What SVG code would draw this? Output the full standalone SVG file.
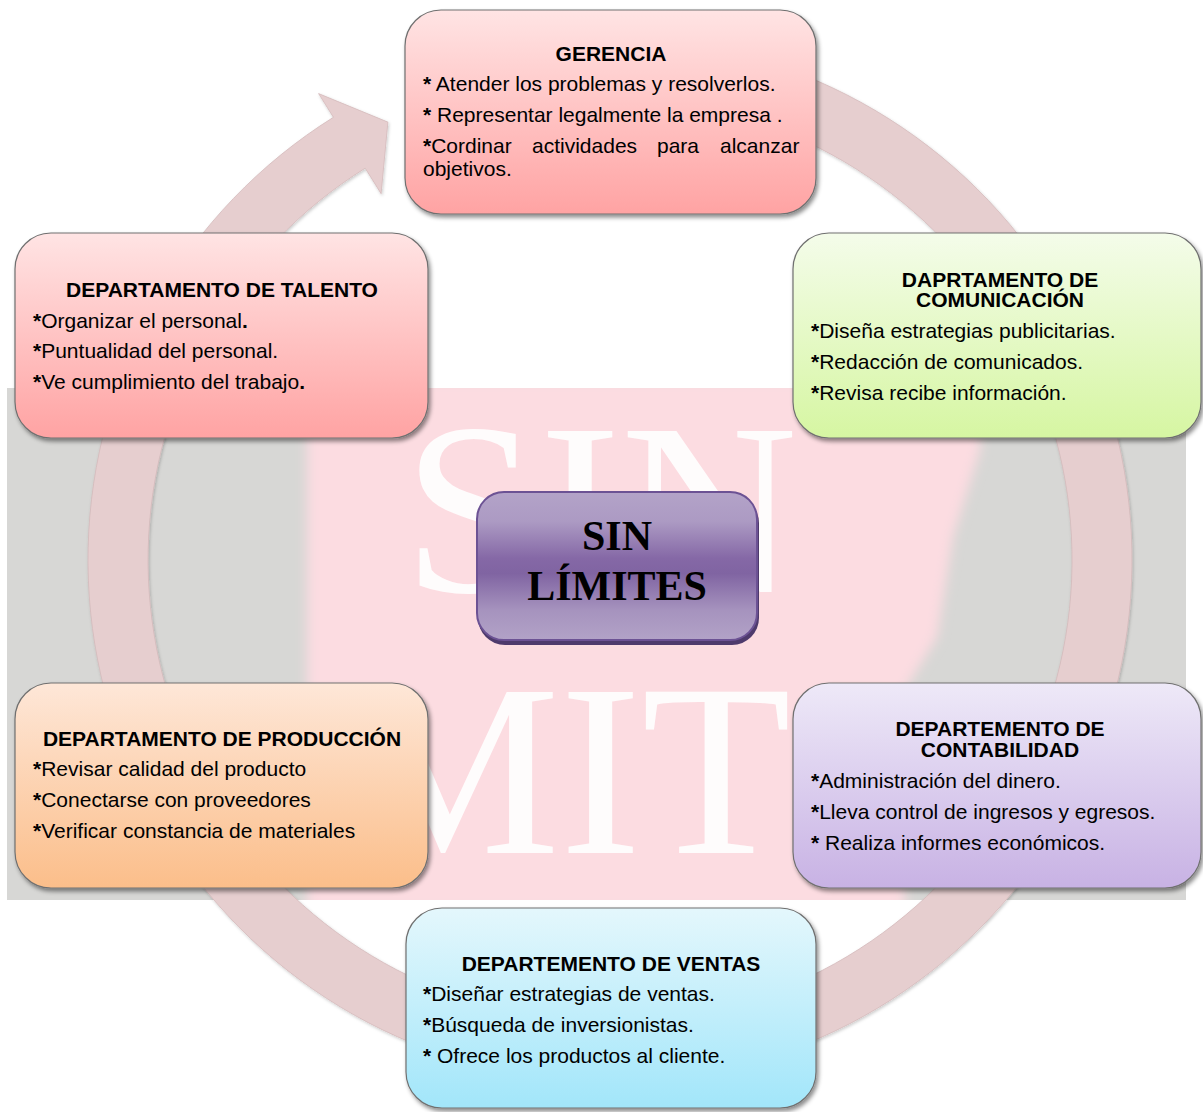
<svg xmlns="http://www.w3.org/2000/svg" width="1203" height="1112" viewBox="0 0 1203 1112">
<defs>
<style>
.t{font-family:"Liberation Sans",Arial,sans-serif;font-size:21px;fill:#000}
.h{font-weight:bold;text-anchor:middle}
.b{font-weight:bold}
.box{stroke:#707070;stroke-width:1.2}
.c{font-family:"Liberation Serif","Times New Roman",serif;font-weight:bold;font-size:42px;text-anchor:middle;fill:#000}
.wm{font-family:"Liberation Serif","Times New Roman",serif;font-size:245px;fill:#fff;opacity:0.92}
</style>
<linearGradient id="gRed" x1="0" y1="0" x2="0" y2="1"><stop offset="0" stop-color="#FFE4E4"/><stop offset="1" stop-color="#FFA3A3"/></linearGradient>
<linearGradient id="gGreen" x1="0" y1="0" x2="0" y2="1"><stop offset="0" stop-color="#F4FCEA"/><stop offset="1" stop-color="#D6F6A2"/></linearGradient>
<linearGradient id="gOrange" x1="0" y1="0" x2="0" y2="1"><stop offset="0" stop-color="#FEE7D8"/><stop offset="1" stop-color="#FBBE8A"/></linearGradient>
<linearGradient id="gLilac" x1="0" y1="0" x2="0" y2="1"><stop offset="0" stop-color="#EEE9F8"/><stop offset="1" stop-color="#C8B2E4"/></linearGradient>
<linearGradient id="gBlue" x1="0" y1="0" x2="0" y2="1"><stop offset="0" stop-color="#E4F7FC"/><stop offset="1" stop-color="#A2E6FA"/></linearGradient>
<linearGradient id="gPur" x1="0" y1="0" x2="0" y2="1"><stop offset="0" stop-color="#B3A3C8"/><stop offset="0.2" stop-color="#AC9AC3"/><stop offset="0.45" stop-color="#8568A6"/><stop offset="0.55" stop-color="#8064A2"/><stop offset="0.8" stop-color="#A693BE"/><stop offset="1" stop-color="#B2A2C7"/></linearGradient>
<filter id="sh" x="-10%" y="-10%" width="125%" height="130%"><feDropShadow dx="2" dy="3" stdDeviation="2.2" flood-color="#000" flood-opacity="0.45"/></filter>
<filter id="ringsh" x="-5%" y="-5%" width="110%" height="110%"><feDropShadow dx="1" dy="1.5" stdDeviation="1.5" flood-color="#000" flood-opacity="0.2"/></filter>
<filter id="blur" x="-10%" y="-10%" width="120%" height="120%"><feGaussianBlur stdDeviation="6"/></filter>
<clipPath id="bgclip"><rect x="7" y="388" width="1179" height="512"/></clipPath>
</defs>

<g id="background">
<rect x="7" y="388" width="1179" height="512" fill="#D7D7D5"/>
<g clip-path="url(#bgclip)">
<path d="M307,380 L982,380 L980,450 L953,537 L937,637 L905,690 L905,910 L307,910 Z" fill="#FCDCE1" filter="url(#blur)"/>
<text class="wm" x="403" y="592">SIN</text>
<text class="wm" x="342" y="853">MIT</text>
</g>
</g>

<g id="connectors">
<path d="M333.4,117.3 L318.6,93.6 L387.9,122.1 L381.1,193.7 L365.2,168.2 A462,462 0 1 0 513.9,108.1 L501.5,49.4 A522,522 0 1 1 333.4,117.3 Z" fill="#E6CECF" stroke="#D4BABB" stroke-width="0.8" filter="url(#ringsh)"/>
</g>

<g id="gerencia">
<rect class="box" x="405" y="10" width="411" height="204" rx="36" fill="url(#gRed)" filter="url(#sh)"/>
<text class="t h" x="611" y="61">GERENCIA</text>
<text class="t" x="423" y="91"><tspan class="b">*</tspan> Atender los problemas y resolverlos.</text>
<text class="t" x="423" y="122"><tspan class="b">*</tspan> Representar legalmente la empresa .</text>
<text class="t" y="153"><tspan x="423" class="b">*</tspan><tspan>Cordinar</tspan><tspan x="532">actividades</tspan><tspan x="657">para</tspan><tspan x="720">alcanzar</tspan></text>
<text class="t" x="423" y="176">objetivos.</text>
</g>

<g id="talento">
<rect class="box" x="15" y="233" width="413" height="205" rx="36" fill="url(#gRed)" filter="url(#sh)"/>
<text class="t h" x="222" y="297">DEPARTAMENTO DE TALENTO</text>
<text class="t" x="33" y="328"><tspan class="b">*</tspan>Organizar el personal<tspan class="b">.</tspan></text>
<text class="t" x="33" y="358"><tspan class="b">*</tspan>Puntualidad del personal.</text>
<text class="t" x="33" y="389"><tspan class="b">*</tspan>Ve cumplimiento del trabajo<tspan class="b">.</tspan></text>
</g>

<g id="comunicacion">
<rect class="box" x="793" y="233" width="408" height="205" rx="36" fill="url(#gGreen)" filter="url(#sh)"/>
<text class="t h" x="1000" y="287">DAPRTAMENTO DE</text>
<text class="t h" x="1000" y="307">COMUNICACIÓN</text>
<text class="t" x="811" y="338"><tspan class="b">*</tspan>Diseña estrategias publicitarias.</text>
<text class="t" x="811" y="369"><tspan class="b">*</tspan>Redacción de comunicados.</text>
<text class="t" x="811" y="400"><tspan class="b">*</tspan>Revisa recibe información.</text>
</g>

<g id="sin-limites">
<rect x="478" y="496" width="281" height="149" rx="27" fill="#4E3A6C"/>
<rect x="477" y="492" width="280" height="148" rx="27" fill="url(#gPur)" stroke="#6C5294" stroke-width="2"/>
<text class="c" x="617" y="550">SIN</text>
<text class="c" x="617" y="600">LÍMITES</text>
</g>

<g id="produccion">
<rect class="box" x="15" y="683" width="413" height="205" rx="36" fill="url(#gOrange)" filter="url(#sh)"/>
<text class="t h" x="222" y="746">DEPARTAMENTO DE PRODUCCIÓN</text>
<text class="t" x="33" y="776"><tspan class="b">*</tspan>Revisar calidad del producto</text>
<text class="t" x="33" y="807"><tspan class="b">*</tspan>Conectarse con proveedores</text>
<text class="t" x="33" y="838"><tspan class="b">*</tspan>Verificar constancia de materiales</text>
</g>

<g id="contabilidad">
<rect class="box" x="793" y="683" width="408" height="205" rx="36" fill="url(#gLilac)" filter="url(#sh)"/>
<text class="t h" x="1000" y="736">DEPARTEMENTO DE</text>
<text class="t h" x="1000" y="757">CONTABILIDAD</text>
<text class="t" x="811" y="788"><tspan class="b">*</tspan>Administración del dinero.</text>
<text class="t" x="811" y="819"><tspan class="b">*</tspan>Lleva control de ingresos y egresos.</text>
<text class="t" x="811" y="850"><tspan class="b">*</tspan> Realiza informes económicos.</text>
</g>

<g id="ventas">
<rect class="box" x="406" y="908" width="410" height="200" rx="36" fill="url(#gBlue)" filter="url(#sh)"/>
<text class="t h" x="611" y="971">DEPARTEMENTO DE VENTAS</text>
<text class="t" x="423" y="1001"><tspan class="b">*</tspan>Diseñar estrategias de ventas.</text>
<text class="t" x="423" y="1032"><tspan class="b">*</tspan>Búsqueda de inversionistas.</text>
<text class="t" x="423" y="1063"><tspan class="b">*</tspan> Ofrece los productos al cliente.</text>
</g>
</svg>
